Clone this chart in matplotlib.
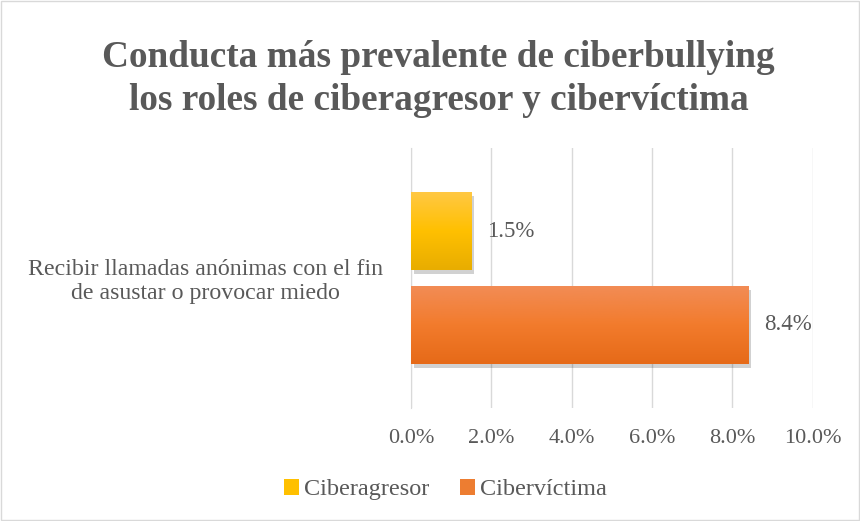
import numpy as np
import matplotlib.pyplot as plt
from matplotlib import patheffects
from matplotlib.colors import LinearSegmentedColormap

plt.rcParams['font.family'] = ['Liberation Serif', 'DejaVu Serif']

categoria = 'Recibir llamadas anónimas con el fin\nde asustar o provocar miedo'
series = ['Ciberagresor', 'Cibervíctima']
valores = [1.5, 8.4]
colores = ['#FFC000', '#ED7D31']
gradientes = [['#FFC843', '#FFC000', '#E8AD00'], ['#F28C55', '#F27B2C', '#E66A18']]
ticks = [0, 2, 4, 6, 8, 10]

fig = plt.figure(figsize=(8.6, 5.21), dpi=100)
ax = fig.add_axes([0.478, 0.217, 0.467, 0.499])

desplaz = [0.18, -0.18]
alto = 0.3
gris = '#595959'
for v, c, g, d, s in zip(valores, colores, gradientes, desplaz, series):
    barra = ax.barh(d, v, height=alto, color=c, label=s, zorder=3)[0]
    barra.set_path_effects([patheffects.SimplePatchShadow(offset=(2, -3), shadow_rgbFace='black', alpha=0.18),
                            patheffects.Normal()])
    cmap = LinearSegmentedColormap.from_list('g', g[::-1])
    grad = np.linspace(0, 1, 100).reshape(-1, 1)
    im = ax.imshow(grad, cmap=cmap, aspect='auto', origin='lower',
                   extent=[0, v, d - alto / 2, d + alto / 2], zorder=4)
    im.set_clip_path(barra)
    ax.text(v + 0.4, d, f'{v:.1f}%', va='center', ha='left', fontsize=16.5, color=gris, zorder=5)

ax.set_xlim(0, 10)
ax.set_ylim(-0.5, 0.5)
ax.set_xticks(ticks)
ax.set_xticklabels([f'{t:.1f}%' for t in ticks], fontsize=16, color=gris)
ax.set_yticks([0])
ax.set_yticklabels([categoria], fontsize=17.2, color=gris, ha='right', multialignment='center',
                   linespacing=1.15)
ax.tick_params(axis='y', pad=20, length=0)
ax.tick_params(axis='x', length=0, pad=15)
ax.grid(axis='x', color='#D9D9D9', linewidth=1, zorder=0)
for lado in ['top', 'right', 'bottom']:
    ax.spines[lado].set_visible(False)
ax.spines['left'].set_color('#D9D9D9')

fig.text(0.51, 0.848, 'Conducta más prevalente de ciberbullying\nlos roles de ciberagresor y cibervíctima',
         ha='center', va='center', fontsize=26.8, fontweight='bold', color=gris, linespacing=1.28)

leg = ax.legend(loc='center', bbox_to_anchor=(0.518, 0.06), bbox_transform=fig.transFigure, ncol=2,
                frameon=False, fontsize=17.5, labelcolor=gris, handlelength=0.6, handleheight=0.6,
                handletextpad=0.2, columnspacing=1.3)
for h in leg.legend_handles:
    h.set_path_effects([])

fig.patches.append(plt.Rectangle((0.001, 0.001), 0.998, 0.998, transform=fig.transFigure,
                                 fill=False, edgecolor='#D9D9D9', linewidth=1))

fig.savefig('out.png', dpi=100)
